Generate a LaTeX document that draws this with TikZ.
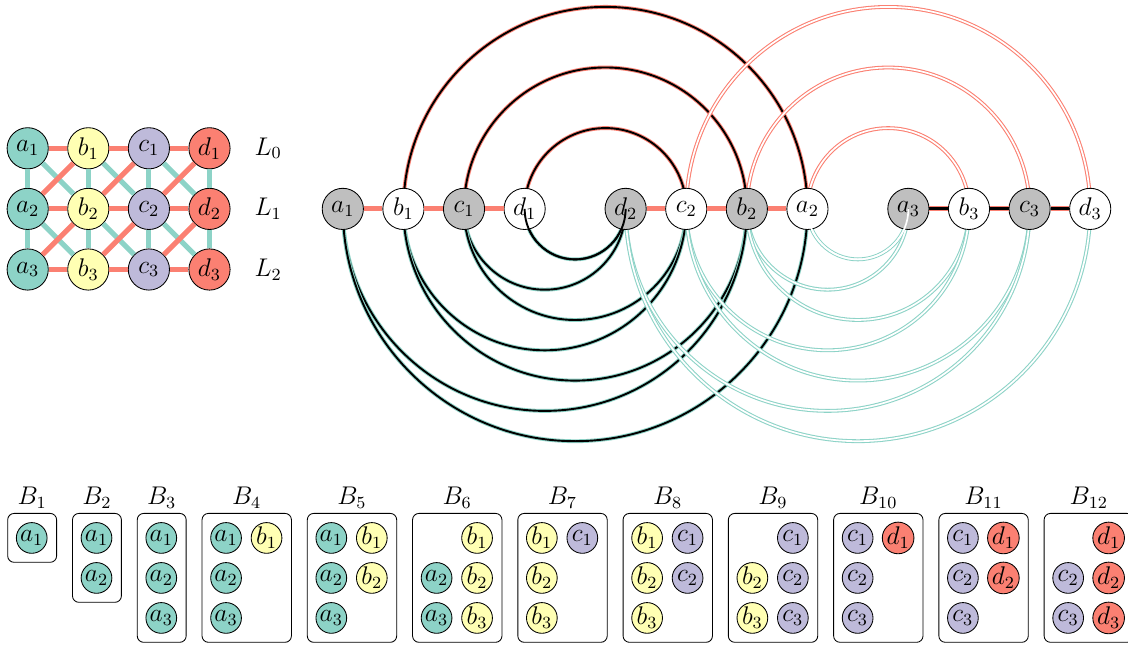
\documentclass[tikz,border=0pt]{standalone}
\usetikzlibrary{calc,backgrounds}
\definecolor{seta}{HTML}{8DD3C7}
\definecolor{setb}{HTML}{FFFFB3}
\definecolor{setc}{HTML}{BEBADA}
\definecolor{setd}{HTML}{FB8072}
\newcommand{\hop}[4]{\draw[#1] let \p1=(#2), \p2=(#3), \n1={(\x2-\x1)/2} in (#2.center) arc[start angle=180, end angle=#4, radius=\n1];}
\begin{document}
\begin{tikzpicture}[every node/.style={font=\large},
  vtx/.style={circle, draw, minimum size=6.8mm, inner sep=0pt},
  dot/.style={circle, draw, minimum size=5.07mm, inner sep=0pt},
  bag/.style={draw, rounded corners=3pt, anchor=north west, inner sep=0pt},
  red edge/.style={setd, line width=2.4pt},
  teal edge/.style={seta, line width=2.4pt},
  black edge/.style={line width=1.4pt, preaction={draw=setd, line width=2.4pt}},
  red arc/.style={line width=0.9pt, preaction={draw=setd, line width=1.8pt}},
  teal arc/.style={line width=0.9pt, preaction={draw=seta, line width=1.8pt}},
  red pair/.style={setd, line width=0.5pt, double=white, double distance=0.8pt},
  teal pair/.style={seta, line width=0.5pt, double=white, double distance=0.8pt}]
\useasboundingbox (-0.457,-8.23) rectangle (18.157,2.447);

\foreach \lt [count=\i from 0] in {a,b,c,d}
  \foreach \ix in {1,2,3}
    \node[vtx, fill=set\lt] (g\lt\ix) at (\i,1-\ix) {$\lt_\ix$};
\foreach \ix in {0,1,2}
  \node (L\ix) at (3.97,-\ix) {$L_\ix$};
\foreach \lt in {a,b,c,d}
  \foreach \ix/\jx in {1/2,2/3}
    \draw[teal edge] (g\lt\ix) -- (g\lt\jx);
\foreach \lt/\mt in {a/b,b/c,c/d} {
  \foreach \ix/\jx in {1/2,2/3} {
    \draw[teal edge] (g\lt\ix) -- (g\mt\jx);
    \draw[red edge] (g\lt\jx) -- (g\mt\ix);
  }
  \foreach \ix in {1,2,3}
    \draw[red edge] (g\lt\ix) -- (g\mt\ix);
}

\foreach \lt/\ix/\x/\f in {a/1/5.2/black!25, b/1/6.2/white, c/1/7.2/black!25, d/1/8.2/white,
    d/2/9.867/black!25, c/2/10.867/white, b/2/11.867/black!25, a/2/12.867/white,
    a/3/14.533/black!25, b/3/15.533/white, c/3/16.533/black!25, d/3/17.533/white}
  \node[vtx, fill=\f] (\lt\ix) at (\x,-1) {$\lt_\ix$};
\foreach \u/\v in {a1/b1,b1/c1,c1/d1,d2/c2,c2/b2,b2/a2}
  \draw[red edge] (\u) -- (\v);
\foreach \u/\v in {a3/b3,b3/c3,c3/d3}
  \draw[black edge] (\u) -- (\v);
\begin{pgfonlayer}{background}
\foreach \u/\v in {b1/a2,c1/b2,d1/c2}
  {\hop{red arc}{\u}{\v}{0}}
\foreach \u/\v in {d1/d2,c1/d2,c1/c2,b1/c2,b1/b2,a1/b2,a1/a2}
  {\hop{teal arc}{\u}{\v}{360}}
\foreach \u/\v in {a2/b3,b2/c3,c2/d3}
  {\hop{red pair}{\u}{\v}{0}}
\foreach \u/\v in {a2/a3,b2/a3,b2/b3,c2/b3,c2/c3,d2/c3,d2/d3}
  {\hop{teal pair}{\u}{\v}{360}}
\end{pgfonlayer}
\hop{line width=0.9pt}{d1}{d2}{360}
\hop{white, line width=0.8pt}{a2}{a3}{360}

\foreach \n/\x/\nc/\nr/\items in {
    1/-0.337/1/1/{0/1/a},
    2/0.732/1/2/{0/1/a,0/2/a},
    3/1.801/1/3/{0/1/a,0/2/a,0/3/a},
    4/2.870/2/3/{0/1/a,0/2/a,0/3/a,1/1/b},
    5/4.607/2/3/{0/1/a,0/2/a,0/3/a,1/1/b,1/2/b},
    6/6.344/2/3/{0/2/a,0/3/a,1/1/b,1/2/b,1/3/b},
    7/8.081/2/3/{0/1/b,0/2/b,0/3/b,1/1/c},
    8/9.818/2/3/{0/1/b,0/2/b,0/3/b,1/1/c,1/2/c},
    9/11.555/2/3/{0/2/b,0/3/b,1/1/c,1/2/c,1/3/c},
    10/13.292/2/3/{0/1/c,0/2/c,0/3/c,1/1/d},
    11/15.029/2/3/{0/1/c,0/2/c,0/3/c,1/1/d,1/2/d},
    12/16.766/2/3/{0/2/c,0/3/c,1/1/d,1/2/d,1/3/d}} {
  \node[bag, minimum width={0.807cm+(\nc-1)*0.668cm}, minimum height={0.807cm+(\nr-1)*0.66cm}] (B\n) at (\x,-6.018) {};
  \node[above, inner sep=2pt] (t\n) at (B\n.north) {$B_{\n}$};
  \foreach \cl/\ix/\lt in \items
    \node[dot, fill=set\lt] (B\n\lt\ix) at ({\x+0.4035+\cl*0.668},{-5.77-\ix*0.66}) {$\lt_\ix$};
}
\end{tikzpicture}
\end{document}
